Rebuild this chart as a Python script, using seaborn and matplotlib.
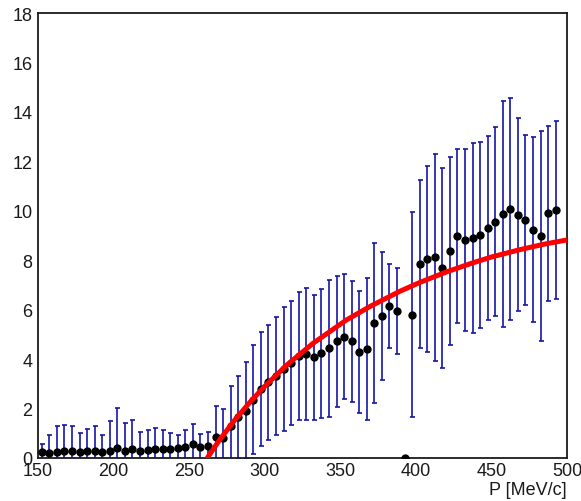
import numpy as np
import pandas as pd
import matplotlib
matplotlib.use("Agg")
import matplotlib.pyplot as plt
import seaborn as sns
from matplotlib.ticker import MultipleLocator

# ---- data ----
p_centers = [152.5, 157.5, 162.5, 167.5, 172.5, 177.5, 182.5, 187.5, 192.5, 197.5,
             202.5, 207.5, 212.5, 217.5, 222.5, 227.5, 232.5, 237.5, 242.5, 247.5,
             252.5, 257.5, 262.5, 267.5, 272.5, 277.5, 282.5, 287.5, 292.5, 297.5,
             302.5, 307.5, 312.5, 317.5, 322.5, 327.5, 332.5, 337.5, 342.5, 347.5,
             352.5, 357.5, 362.5, 367.5, 372.5, 377.5, 382.5, 387.5, 392.5, 397.5,
             402.5, 407.5, 412.5, 417.5, 422.5, 427.5, 432.5, 437.5, 442.5, 447.5,
             452.5, 457.5, 462.5, 467.5, 472.5, 477.5, 482.5, 487.5, 492.5]
values = [0.25, 0.22, 0.25, 0.28, 0.27, 0.25, 0.28, 0.30, 0.25, 0.30,
          0.39, 0.30, 0.35, 0.30, 0.32, 0.35, 0.38, 0.36, 0.40, 0.45,
          0.57, 0.43, 0.50, 0.84, 0.82, 1.31, 1.65, 1.91, 2.36, 2.79,
          3.06, 3.33, 3.60, 3.84, 4.11, 4.21, 4.07, 4.23, 4.44, 4.72,
          4.91, 4.72, 4.30, 4.41, 5.46, 5.73, 6.14, 5.93, 0.00, 5.80,
          7.85, 8.05, 8.12, 7.69, 8.39, 8.99, 8.82, 8.90, 9.02, 9.30,
          9.56, 9.87, 10.07, 9.84, 9.64, 9.24, 8.97, 9.90, 10.03]
upper_edge = [0.57, 0.93, 1.31, 1.35, 1.31, 1.01, 1.17, 1.31, 0.93, 1.48,
              2.01, 1.42, 1.54, 1.07, 1.13, 1.20, 1.13, 1.01, 0.94, 1.13,
              1.38, 0.97, 1.07, 2.09, 2.00, 2.93, 3.33, 3.87, 4.57, 5.11,
              5.39, 5.72, 6.12, 6.36, 6.70, 6.88, 6.59, 6.84, 7.21, 7.37,
              7.44, 7.17, 6.77, 7.27, 8.70, 8.32, 7.85, 7.67, 0.00, 9.94,
              11.26, 11.83, 12.30, 11.72, 12.19, 12.50, 12.50, 12.73, 12.80, 13.01,
              13.37, 14.46, 14.55, 13.74, 13.08, 12.97, 13.22, 13.44, 13.62]

# fitted curve
fit_p = [262, 270, 280, 290, 300, 315, 332, 354, 370, 390, 403, 420, 436, 450, 469, 485, 500]
fit_y = [0.0, 0.72, 1.52, 2.24, 2.90, 3.78, 4.64, 5.58, 6.14, 6.76, 7.11, 7.52, 7.86, 8.13, 8.43, 8.65, 8.82]

x_ticks = [150, 200, 250, 300, 350, 400, 450, 500]
y_ticks = [0, 2, 4, 6, 8, 10, 12, 14, 16, 18]

df = pd.DataFrame({"p": p_centers, "v": values, "up": upper_edge})
df["err"] = df["up"] - df["v"]
fit_df = pd.DataFrame({"p": fit_p, "y": fit_y})

sns.set_theme(style="white")
plt.rcParams["font.family"] = ["Liberation Sans", "DejaVu Sans"]

fig = plt.figure(figsize=(5.81, 5.02), dpi=100)
ax = fig.add_axes([0.0654, 0.0857, 0.9105, 0.8864])

# error bars
ax.errorbar(df["p"], df["v"], yerr=df["err"], fmt="none", ecolor="#1515a5",
            elinewidth=1.2, capsize=1.8, capthick=1.2, zorder=2)
# points
sns.scatterplot(data=df, x="p", y="v", ax=ax, color="black", s=36,
                edgecolor="black", linewidth=0, zorder=3, legend=False)
# fit curve
sns.lineplot(data=fit_df, x="p", y="y", ax=ax, color="#ff0000", linewidth=3.6,
             sort=False, zorder=4, legend=False)

ax.set_xlim(150, 500)
ax.set_ylim(0, 18)
ax.set_xticks(x_ticks)
ax.set_yticks(y_ticks)
ax.set_xticklabels([str(t) for t in x_ticks])
ax.set_yticklabels([str(t) for t in y_ticks])
ax.xaxis.set_minor_locator(MultipleLocator(10))
ax.yaxis.set_minor_locator(MultipleLocator(0.5))
ax.tick_params(axis="both", which="major", direction="in", length=14, width=1.1,
               colors="#1a1a1a", labelsize=13, top=False, right=False)
ax.tick_params(axis="both", which="minor", direction="in", length=7, width=1.1,
               colors="#1a1a1a", top=False, right=False)
ax.tick_params(axis="x", which="major", pad=3)
ax.tick_params(axis="y", which="major", pad=4)
ax.set_xlabel("")
ax.set_ylabel("")
for s in ax.spines.values():
    s.set_color("#1a1a1a")
    s.set_linewidth(1.3)
    s.set_visible(True)

fig.text(567 / 581, (502 - 495) / 502, "P [MeV/c]", ha="right", va="baseline",
         fontsize=13, color="#1a1a1a")

fig.savefig("out.png", dpi=100, facecolor="white")
